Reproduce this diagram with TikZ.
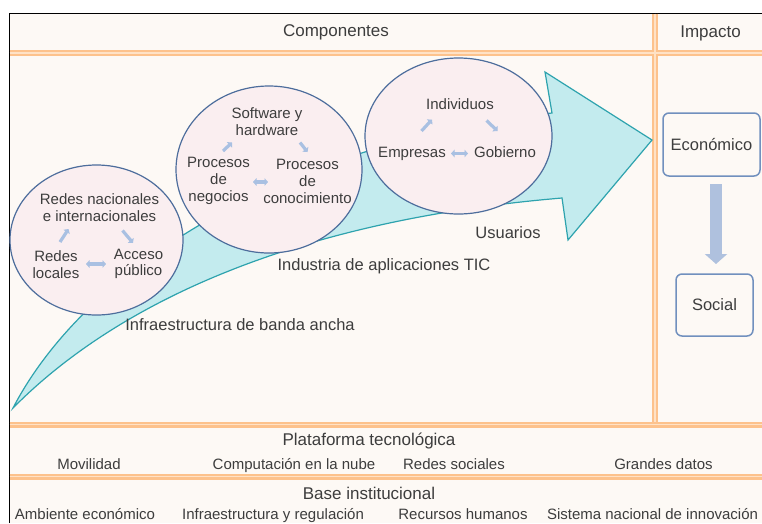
\documentclass[tikz,border=0pt]{standalone}
\usepackage{fontspec}
\setmainfont{Liberation Sans}
\usetikzlibrary{arrows.meta,shapes.geometric}
\definecolor{bg}{HTML}{FDF9F5}
\definecolor{orng}{HTML}{FDC28C}
\definecolor{orngl}{HTML}{FFE2C6}
\definecolor{cyanf}{HTML}{C3EBEE}
\definecolor{cyand}{HTML}{2EA3AE}
\definecolor{pinkf}{HTML}{FAEEF0}
\definecolor{blued}{HTML}{4D6D9C}
\definecolor{arrl}{HTML}{A9C0E2}
\definecolor{txt}{HTML}{3D3D3D}
\definecolor{boxb}{HTML}{7190BE}
\definecolor{blockarr}{HTML}{AFC1DE}
\begin{document}
\begin{tikzpicture}[x=1pt,y=-1pt,
  every node/.style={text=txt,inner sep=0pt},
  sepline/.style={orng,line width=6pt},
  sepinner/.style={orngl,line width=1.2pt},
  circ/.style={ellipse,draw=blued,fill=pinkf,line width=1.2pt},
  ctext/.style={font=\fontsize{15}{16.5}\selectfont,align=center},
  ctextb/.style={font=\fontsize{15}{17}\selectfont,align=center},
  cone/.style={font=\fontsize{15}{16.5}\selectfont,text height=10.8pt,text depth=0pt},
  lbl/.style={font=\fontsize{16.5}{18}\selectfont,text height=11.8pt,text depth=0pt},
  hdr/.style={font=\fontsize{17}{19}\selectfont,text height=12.2pt,text depth=0pt},
  rowtext/.style={font=\fontsize{15}{17}\selectfont,text height=10.8pt,text depth=0pt},
  impbox/.style={draw=boxb,line width=1.5pt,rounded corners=6pt,fill=bg,font=\fontsize{16.5}{18}\selectfont},
  smallarr/.style={arrl,line width=3.2pt,-{Triangle[length=3.5pt,width=7.5pt]}},
  smallarr2/.style={arrl,line width=3.2pt,{Triangle[length=3.5pt,width=7.5pt]}-{Triangle[length=3.5pt,width=7.5pt]}}
]
\useasboundingbox (0,0) rectangle (762,523);
\fill[white] (0,0) rectangle (762,523);
\fill[bg] (9,13) rectangle (762,523);
\draw[black,line width=1pt] (9,523) -- (9,13) -- (762,13);

% separator lines
\draw[sepline] (9.5,53) -- (762,53);
\draw[sepline] (9.5,424.5) -- (762,424.5);
\draw[sepline] (9.5,476.5) -- (762,476.5);
\draw[sepline] (655,13.5) -- (655,424.5);
\draw[sepinner] (9.5,53) -- (762,53);
\draw[sepinner] (9.5,424.5) -- (762,424.5);
\draw[sepinner] (9.5,476.5) -- (762,476.5);
\draw[sepinner] (655,13.5) -- (655,422);

% headers
\node[hdr] (comp) at (336,30) {Componentes};
\node[hdr] (imp) at (710.5,31) {Impacto};

% big curved arrow
\draw[fill=cyanf,draw=cyand,line width=1.2pt,line join=miter]
  (13,408) .. controls (90,260) and (300,140) .. (552,113)
  -- (545,72) -- (652,140) -- (568,240) -- (562,198)
  .. controls (300,220) and (120,300) .. (13,408) -- cycle;

% circles
\node[circ,minimum width=173pt,minimum height=150pt] (c1) at (96.5,240) {};
\node[circ,minimum width=186pt,minimum height=167pt] (c2) at (269,169.5) {};
\node[circ,minimum width=187pt,minimum height=156pt] (c3) at (458.5,136) {};

% circle 1 texts
\node[ctext] (rn) at (99.5,207.5) {Redes nacionales\\e internacionales};
\node[ctext] (rl) at (56,264.5) {Redes\\locales};
\node[ctext] (ap) at (138.5,264) {Acceso\\público};
\coordinate (a1s) at (60,242);
\coordinate (a1e) at (68.5,229);
\coordinate (a2s) at (122.5,230.5);
\coordinate (a2e) at (133,243);
\coordinate (a3s) at (86,264);
\coordinate (a3e) at (106,264);
\draw[smallarr] (a1s) -- (a1e);
\draw[smallarr] (a2s) -- (a2e);
\draw[smallarr2] (a3s) -- (a3e);

% circle 2 texts
\node[ctextb] (sw) at (267,122) {Software y\\hardware};
\node[ctextb] (pn) at (218.5,181) {Procesos\\de\\negocios};
\node[ctextb] (pc) at (307.5,181) {Procesos\\de\\conocimiento};
\coordinate (b1s) at (223,151);
\coordinate (b1e) at (232,142.5);
\coordinate (b2s) at (300,142.5);
\coordinate (b2e) at (307.5,152);
\coordinate (b3s) at (253,182);
\coordinate (b3e) at (268,182);
\draw[smallarr] (b1s) -- (b1e);
\draw[smallarr] (b2s) -- (b2e);
\draw[smallarr2] (b3s) -- (b3e);

% circle 3 texts
\node[cone] (ind) at (460,104) {Individuos};
\node[cone] (emp) at (412,152.5) {Empresas};
\node[cone] (gob) at (505,152.5) {Gobierno};
\coordinate (d1s) at (421.5,131);
\coordinate (d1e) at (432,119.5);
\coordinate (d2s) at (486.5,120.5);
\coordinate (d2e) at (497.5,131);
\coordinate (d3s) at (451,153.5);
\coordinate (d3e) at (468,153.5);
\draw[smallarr] (d1s) -- (d1e);
\draw[smallarr] (d2s) -- (d2e);
\draw[smallarr2] (d3s) -- (d3e);

% labels along arrow
\node[lbl] (usu) at (508,233) {Usuarios};
\node[lbl] (ind2) at (384,265) {Industria de aplicaciones TIC};
\node[lbl] (infra) at (240,325) {Infraestructura de banda ancha};

% impact boxes
\node[impbox,minimum width=97pt,minimum height=63pt] (eco) at (711.5,144.5) {Económico};
\node[impbox,minimum width=77pt,minimum height=62pt] (soc) at (714.5,305) {Social};
\coordinate (ea) at (716,184);
\coordinate (sa) at (716,264);
\draw[blockarr,line width=12pt,-{Triangle[length=10pt,width=22pt]}] (ea) -- (sa);

% bottom rows
\node[hdr] (plat) at (369,439) {Plataforma tecnológica};
\node[rowtext] (mov) at (89,464) {Movilidad};
\node[rowtext] (comp2) at (294,464) {Computación en la nube};
\node[rowtext] (rs) at (454,464) {Redes sociales};
\node[rowtext] (gd) at (663.5,464) {Grandes datos};
\node[hdr] (base) at (369,493) {Base institucional};
\node[rowtext] (amb) at (85,514) {Ambiente económico};
\node[rowtext] (infr) at (273,514) {Infraestructura y regulación};
\node[rowtext] (rh) at (463,514) {Recursos humanos};
\node[rowtext] (sni) at (652.5,514) {Sistema nacional de innovación};
\end{tikzpicture}
\end{document}
